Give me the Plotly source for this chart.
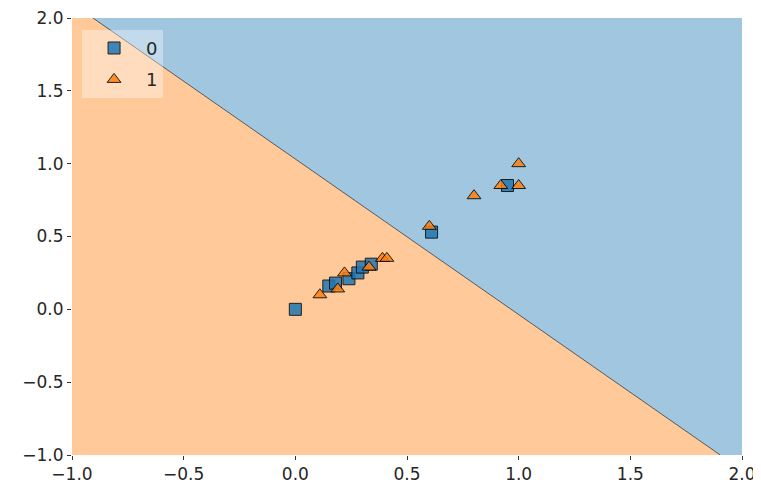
import plotly.graph_objects as go

# ---- data ----
x0 = [0.0, 0.15, 0.18, 0.24, 0.28, 0.30, 0.34, 0.61, 0.95]
y0 = [0.0, 0.16, 0.18, 0.21, 0.25, 0.29, 0.31, 0.53, 0.85]
x1 = [0.11, 0.19, 0.22, 0.33, 0.39, 0.41, 0.60, 0.80, 0.92, 1.00, 1.00]
y1 = [0.10, 0.14, 0.25, 0.29, 0.35, 0.35, 0.57, 0.78, 0.85, 0.85, 1.00]
class_labels = ["0", "1"]

# linear decision boundary: y = intercept + slope * x
intercept = 1.032
slope = -1.068
xlim = [-1.0, 2.0]
ylim = [-1.0, 2.0]
ticks = [-1.0, -0.5, 0.0, 0.5, 1.0, 1.5, 2.0]

# boundary crossings with the plot edges
x_top = (ylim[1] - intercept) / slope
x_bot = (ylim[0] - intercept) / slope

blue = "#1f77b4"
orange = "#ff7f0e"

fig = go.Figure()
# orange region (below boundary)
fig.add_trace(go.Scatter(
    x=[xlim[0], xlim[0], x_top, x_bot, xlim[0]],
    y=[ylim[0], ylim[1], ylim[1], ylim[0], ylim[0]],
    fill="toself", fillcolor="rgba(255,127,14,0.42)", mode="none",
    showlegend=False, hoverinfo="skip"))
# blue region (above boundary)
fig.add_trace(go.Scatter(
    x=[x_top, xlim[1], xlim[1], x_bot, x_top],
    y=[ylim[1], ylim[1], ylim[0], ylim[0], ylim[1]],
    fill="toself", fillcolor="rgba(31,119,180,0.42)", mode="none",
    showlegend=False, hoverinfo="skip"))
# boundary line
fig.add_trace(go.Scatter(
    x=[x_top, x_bot], y=[ylim[1], ylim[0]], mode="lines",
    line=dict(color="rgba(60,60,60,0.8)", width=1),
    showlegend=False, hoverinfo="skip"))

fig.add_trace(go.Scatter(
    x=x0, y=y0, mode="markers", name=class_labels[0], legendgroup="c0",
    marker=dict(symbol="square", size=12, color=blue, opacity=0.85,
                line=dict(color="black", width=1))))
fig.add_trace(go.Scatter(
    x=x1, y=y1, mode="markers", name=class_labels[1], legendgroup="c1",
    marker=dict(symbol="triangle-up", size=12, color=orange, opacity=0.85,
                line=dict(color="black", width=1))))

axis_common = dict(
    tickvals=ticks, tickformat=".1f", ticks="outside", ticklen=4,
    tickcolor="#333", showgrid=False, zeroline=False, showline=False,
    automargin=False, ticklabeloverflow="allow",
    tickfont=dict(family="DejaVu Sans", size=17, color="#262626"))

fig.update_layout(
    width=753, height=486,
    margin=dict(l=64, r=19, t=10, b=39),
    plot_bgcolor="white", paper_bgcolor="white",
    xaxis=dict(range=xlim, **axis_common),
    yaxis=dict(range=ylim, **axis_common),
    legend=dict(x=0.015, y=0.973, xanchor="left", yanchor="top",
                bgcolor="rgba(255,255,255,0.35)", borderwidth=0,
                font=dict(family="DejaVu Sans", size=18, color="#262626"),
                itemwidth=54, traceorder="grouped", tracegroupgap=5),
    showlegend=True,
)

fig.write_html("out.html")
